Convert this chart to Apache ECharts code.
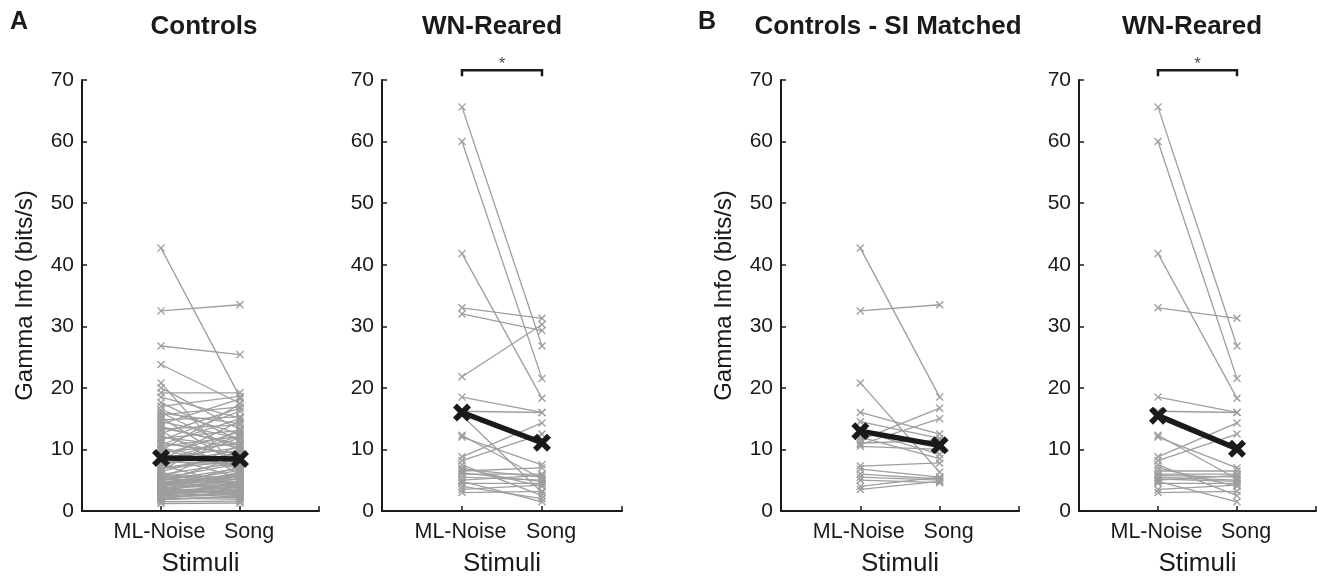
<!DOCTYPE html>
<html>
<head>
<meta charset="utf-8">
<script src="https://cdn.jsdelivr.net/npm/echarts/dist/echarts.min.js"></script>
<style>
  html, body { margin: 0; padding: 0; background: #ffffff; }
  #chart { width: 1317px; height: 578px; }
</style>
</head>
<body>
<div id="chart"></div>
<script>
// Category names on every x axis
const stimuli = ['ML-Noise', 'Song'];

// Panel headings and panel letters
const panelTitles = ['Controls', 'WN-Reared', 'Controls - SI Matched', 'WN-Reared'];
const panelLetters = ['A', 'B'];

// Y axis range (bits/s)
const yMin = 0;
const yMax = 70;
const yStep = 10;

// A: Controls, gamma information per site (bits/s)
const controlsNoise = [
  42.7, 32.5, 26.8, 23.8, 20.8, 20.0, 19.2, 18.5, 17.6, 17.0,
  16.4, 16.0, 15.6, 15.2, 14.8, 14.5, 14.1, 13.7, 13.3, 13.0,
  12.6, 12.2, 11.8, 11.5, 11.1, 10.8, 10.5, 10.1, 9.8, 9.5,
  9.2, 8.9, 8.6, 8.3, 8.0, 7.7, 7.4, 7.2, 6.9, 6.6,
  6.4, 6.1, 5.9, 5.6, 5.4, 5.2, 5.0, 4.8, 4.6, 4.4,
  4.2, 4.0, 3.8, 3.6, 3.5, 3.3, 3.1, 3.0, 2.8, 2.6,
  2.5, 2.3, 2.1, 2.0, 1.8, 1.5, 1.2, 6.2, 7.0, 9.0,
  11.0, 12.0, 4.5, 5.5, 3.9, 2.9, 8.1, 10.2, 13.5, 15.9,
  3.2, 3.7, 4.1, 4.3, 4.7, 2.2, 2.7, 3.4, 5.1, 5.3,
  4.9, 3.6, 2.4, 4.1, 3.0, 5.8, 1.9, 3.2, 4.6, 3.8
];
const controlsSong = [
  18.5, 33.5, 25.4, 17.5, 6.3, 13.2, 19.2, 15.1, 11.4, 18.6,
  12.5, 9.8, 16.9, 7.2, 15.3, 11.8, 18.2, 10.6, 14.0, 5.9,
  16.7, 8.5, 13.1, 16.2, 9.2, 15.0, 12.1, 6.8, 17.4, 11.0,
  12.8, 5.4, 10.3, 14.6, 7.6, 9.9, 4.1, 11.9, 8.1, 13.4,
  9.6, 3.8, 7.9, 5.5, 10.7, 4.6, 6.9, 8.8, 3.2, 6.0,
  5.2, 7.1, 2.9, 4.4, 6.3, 3.0, 5.7, 2.2, 4.0, 3.5,
  2.7, 4.8, 1.9, 3.3, 2.4, 1.6, 1.3, 5.0, 8.7, 7.4,
  9.3, 10.4, 6.6, 4.3, 5.9, 3.9, 12.2, 8.0, 10.9, 14.2,
  4.1, 2.6, 5.6, 3.7, 4.0, 2.9, 3.6, 5.3, 4.5, 7.7,
  3.4, 4.9, 2.1, 6.2, 2.5, 4.7, 2.3, 3.1, 5.5, 4.2
];

// A: WN-Reared
const wnNoise = [65.6, 60.0, 41.8, 33.0, 32.0, 21.8, 18.5, 16.2, 15.5, 12.3, 12.0, 8.8, 8.2,
                 7.5, 7.0, 6.5, 6.0, 6.8, 5.5, 6.2, 5.0, 4.8, 4.5, 4.0, 3.5, 3.0];
const wnSong  = [26.8, 21.5, 18.3, 31.3, 29.3, 30.3, 16.0, 16.0, 3.0, 5.2, 7.5, 14.3, 12.5,
                 2.5, 4.0, 7.0, 6.0, 5.5, 5.0, 4.8, 5.8, 1.5, 4.5, 2.0, 4.2, 3.2];

// B: Controls matched on SI
const siNoise = [42.7, 32.5, 20.8, 16.0, 14.5, 13.0, 12.0, 11.5, 11.0, 10.8, 10.5, 7.3, 6.8, 6.0, 5.5, 5.0, 4.0, 3.5];
const siSong  = [18.5, 33.5, 6.3, 12.5, 11.8, 9.2, 8.5, 16.7, 11.5, 15.0, 10.0, 7.8, 5.5, 5.2, 5.0, 4.6, 5.5, 4.8];

// B: WN-Reared
const wnbNoise = [65.6, 60.0, 41.8, 33.0, 18.5, 16.2, 12.3, 12.0, 8.8, 8.2, 7.5, 7.0, 6.5, 6.0, 5.8, 5.5, 5.2, 5.0, 4.8, 4.5, 3.5, 3.0];
const wnbSong  = [26.8, 21.5, 18.3, 31.3, 16.0, 16.0, 5.2, 7.0, 14.3, 12.5, 2.5, 4.0, 6.5, 6.0, 5.5, 5.0, 4.8, 5.8, 1.5, 4.5, 4.2, 3.2];

// Panels marked significant (*)
const significant = [false, true, false, true];

const panels = [
  { noise: controlsNoise, song: controlsSong },
  { noise: wnNoise, song: wnSong },
  { noise: siNoise, song: siSong },
  { noise: wnbNoise, song: wnbSong }
];

// ---- styling ----
const FONT = "'Liberation Sans', Arial, Helvetica, sans-serif";
const INK = '#1a1a1a';
const GREY = '#9e9e9e';
const X_THIN = 'path://M1.2,0 L5,3.8 L8.8,0 L10,1.2 L6.2,5 L10,8.8 L8.8,10 L5,6.2 L1.2,10 L0,8.8 L3.8,5 L0,1.2 Z';
const X_BOLD = 'path://M2.2,0 L5,2.8 L7.8,0 L10,2.2 L7.2,5 L10,7.8 L7.8,10 L5,7.2 L2.2,10 L0,7.8 L2.8,5 L0,2.2 Z';

const gridBoxes = [
  { left: 82,   top: 80, width: 237, height: 431 },
  { left: 382,  top: 80, width: 240, height: 431 },
  { left: 781,  top: 80, width: 238, height: 431 },
  { left: 1079, top: 80, width: 237, height: 431 }
];
const titleCentres = [204, 492, 888, 1192];
const letterPos = [[19, 22], [707, 22]];
const bracket = { low: 70.6, high: 71.6 };

const mean = arr => arr.reduce((s, v) => s + v, 0) / arr.length;

// fixed plot boxes: do not let the layout shrink them to fit the labels
const grid = gridBoxes.map(g => Object.assign({ containLabel: false, outerBoundsMode: 'none' }, g));

const xAxis = gridBoxes.map((g, i) => ({
  gridIndex: i,
  type: 'value',
  min: 0, max: 3, interval: 1,
  name: 'Stimuli',
  nameLocation: 'middle',
  nameGap: 40,
  nameTextStyle: { fontFamily: FONT, fontSize: 26, color: INK },
  axisLine: { show: true, onZero: false, lineStyle: { color: INK, width: 2 } },
  axisTick: { show: true, inside: true, length: 5, lineStyle: { color: INK, width: 1.5 } },
  axisLabel: {
    fontFamily: FONT, fontSize: 21.5, color: INK, margin: 10,
    formatter: v => (v === 1 ? '{a|' + stimuli[0] + '}' : v === 2 ? '{b|' + stimuli[1] + '}' : ''),
    rich: {
      a: { fontFamily: FONT, fontSize: 21.5, color: INK, padding: [0, 3, 0, 0] },
      b: { fontFamily: FONT, fontSize: 21.5, color: INK, padding: [0, 0, 0, 18] }
    }
  },
  splitLine: { show: false }
}));

const yAxis = gridBoxes.map((g, i) => ({
  gridIndex: i,
  type: 'value',
  min: yMin, max: yMax, interval: yStep,
  name: (i === 0 || i === 2) ? 'Gamma Info (bits/s)' : '',
  nameLocation: 'middle',
  nameGap: 45,
  nameTextStyle: { fontFamily: FONT, fontSize: 24, color: INK },
  axisLine: { show: true, lineStyle: { color: INK, width: 2 } },
  axisTick: { show: true, inside: true, length: 5, lineStyle: { color: INK, width: 1.5 } },
  axisLabel: { fontFamily: FONT, fontSize: 21, color: INK, margin: 8 },
  splitLine: { show: false }
}));

const series = [];
panels.forEach((p, i) => {
  // one grey line per recording site
  p.noise.forEach((v, k) => {
    series.push({
      type: 'line',
      xAxisIndex: i, yAxisIndex: i,
      data: [[1, v], [2, p.song[k]]],
      symbol: X_THIN,
      symbolSize: 8,
      showAllSymbol: true,
      lineStyle: { color: GREY, width: 1.3 },
      itemStyle: { color: GREY },
      silent: true,
      animation: false,
      z: 2
    });
  });
  // group mean
  series.push({
    type: 'line',
    xAxisIndex: i, yAxisIndex: i,
    data: [[1, mean(p.noise)], [2, mean(p.song)]],
    symbol: X_BOLD,
    symbolSize: 18,
    lineStyle: { color: INK, width: 5.5 },
    itemStyle: { color: INK },
    silent: true,
    animation: false,
    z: 5
  });
  // significance bracket with its star
  if (significant[i]) {
    series.push({
      type: 'line',
      xAxisIndex: i, yAxisIndex: i,
      clip: false,
      data: [[1, bracket.low], [1, bracket.high], [2, bracket.high], [2, bracket.low]],
      symbol: 'none',
      lineStyle: { color: INK, width: 2.5, cap: 'butt', join: 'miter' },
      silent: true,
      animation: false,
      z: 5
    });
    series.push({
      type: 'scatter',
      xAxisIndex: i, yAxisIndex: i,
      clip: false,
      data: [[1.5, bracket.high]],
      symbolSize: 2,
      itemStyle: { color: 'rgba(255,255,255,0)' },
      label: {
        show: true, position: 'top', distance: -4, formatter: '*',
        fontFamily: FONT, fontSize: 17, color: INK
      },
      silent: true,
      animation: false,
      z: 6
    });
  }
});

const graphic = [];
panelTitles.forEach((t, i) => {
  graphic.push({
    type: 'text', x: titleCentres[i], y: 27, silent: true,
    style: {
      text: t, font: 'bold 26px ' + FONT, fill: INK,
      textAlign: 'center', textVerticalAlign: 'middle', align: 'center', verticalAlign: 'middle'
    }
  });
});
panelLetters.forEach((t, i) => {
  graphic.push({
    type: 'text', x: letterPos[i][0], y: letterPos[i][1], silent: true,
    style: {
      text: t, font: 'bold 25px ' + FONT, fill: INK,
      textAlign: 'center', textVerticalAlign: 'middle', align: 'center', verticalAlign: 'middle'
    }
  });
});

const chart = echarts.init(document.getElementById('chart'), null, { renderer: 'canvas' });
chart.setOption({
  backgroundColor: '#ffffff',
  animation: false,
  grid, xAxis, yAxis, series, graphic
});
</script>
</body>
</html>
